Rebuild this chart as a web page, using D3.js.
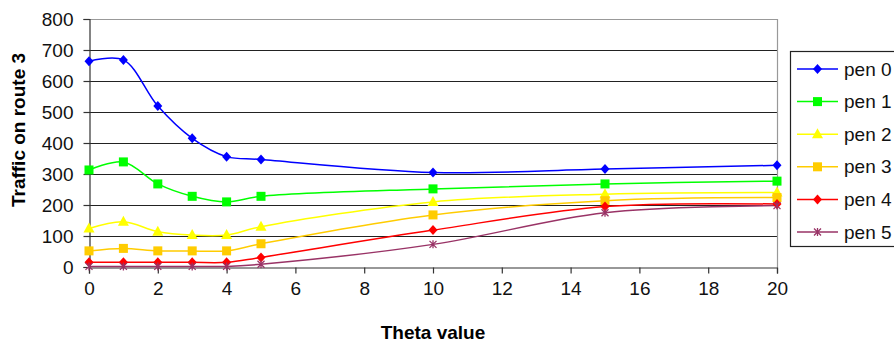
<!DOCTYPE html>
<html>
<head>
<meta charset="utf-8">
<script src="https://cdn.jsdelivr.net/npm/d3@7"></script>
<style>
  body { margin: 0; background: #fff; }
  svg text { font-family: Arial, "Liberation Sans", sans-serif; }
</style>
</head>
<body>
<svg width="894" height="345"></svg>
<script>
// Data
const theta = [0, 1, 2, 3, 4, 5, 10, 15, 20];
const pen0 = [664, 668, 519, 415, 356, 347, 305, 316, 328];
const pen1 = [313, 339, 268, 228, 210, 228, 252, 268, 277];
const pen2 = [124, 146, 114, 103, 103, 130, 210, 235, 240];
const pen3 = [52, 60, 52, 52, 52, 75, 168, 214, 224];
const pen4 = [15, 15, 15, 15, 15, 31, 119, 195, 203];
const pen5 = [2, 2, 2, 2, 2, 9, 73, 175, 198];
const seriesNames = ["pen 0", "pen 1", "pen 2", "pen 3", "pen 4", "pen 5"];
const yTicks = [0, 100, 200, 300, 400, 500, 600, 700, 800];
const xTicks = [0, 2, 4, 6, 8, 10, 12, 14, 16, 18, 20];

const colors = ["#0000ff", "#00ff00", "#ffff00", "#ffcc00", "#ff0000", "#993366"];
const shapes = ["diamond", "square", "triangle", "square", "diamond", "cross"];
const allValues = [pen0, pen1, pen2, pen3, pen4, pen5];

const series = seriesNames.map((name, i) => ({
    name: name,
    color: colors[i],
    shape: shapes[i],
    points: theta.map((t, j) => ({ x: t, y: allValues[i][j] }))
}));

const svg = d3.select("svg");
const plotL = 89, plotR = 777, plotT = 19, plotB = 267;

// scales
const x = d3.scaleLinear().domain([0, 20]).range([plotL, plotR]);
const y = d3.scaleLinear().domain([0, 800]).range([plotB, plotT]);

// gridlines
svg.append("g")
    .selectAll("line")
    .data(yTicks.filter(d => d > 0 && d < 800))
    .enter()
    .append("line")
    .attr("x1", plotL)
    .attr("x2", plotR)
    .attr("y1", d => Math.round(y(d)) + 0.5)
    .attr("y2", d => Math.round(y(d)) + 0.5)
    .attr("stroke", "#222")
    .attr("stroke-width", 1.2);

// plot border (top and right, grey)
svg.append("path")
    .attr("d", `M${plotL},${plotT + 0.5}H${plotR + 0.5}V${plotB}`)
    .attr("fill", "none")
    .attr("stroke", "#999")
    .attr("stroke-width", 1.2);

// axes
const yAxis = svg.append("g")
    .attr("transform", `translate(${plotL + 0.5},0)`)
    .call(d3.axisLeft(y).tickValues(yTicks).tickSize(6).tickPadding(10).tickFormat(d3.format("d")));
const xAxis = svg.append("g")
    .attr("transform", `translate(0,${plotB + 0.5})`)
    .call(d3.axisBottom(x).tickValues(xTicks).tickSize(6).tickPadding(8).tickFormat(d3.format("d")));

[yAxis, xAxis].forEach(ax => {
    ax.select(".domain").attr("stroke", "#333").attr("stroke-width", 1.2);
    ax.selectAll(".tick line").attr("stroke", "#333").attr("stroke-width", 1.2);
    ax.selectAll(".tick text")
        .attr("fill", "#111")
        .style("font-size", "19px")
        .style("font-family", "Arial, 'Liberation Sans', sans-serif");
});
yAxis.selectAll(".tick text").attr("dy", "0.35em");

// lines
const line = d3.line()
    .x(d => x(d.x))
    .y(d => y(d.y))
    .curve(d3.curveCatmullRom.alpha(0.5));

svg.append("g")
    .selectAll("path")
    .data(series)
    .enter()
    .append("path")
    .attr("d", d => line(d.points))
    .attr("fill", "none")
    .attr("stroke", d => d.color)
    .attr("stroke-width", 1.5);

// marker drawing
function drawMarker(g, shape, color) {
    if (shape === "diamond") {
        g.append("path").attr("d", "M0,-5L4.5,0L0,5L-4.5,0Z").attr("fill", color);
    } else if (shape === "square") {
        g.append("rect").attr("x", -4.5).attr("y", -4.5).attr("width", 9).attr("height", 9).attr("fill", color);
    } else if (shape === "triangle") {
        g.append("path").attr("d", "M0,-6L5.5,4L-5.5,4Z").attr("fill", color);
    } else {
        g.append("path").attr("d", "M-3.5,-3.5L3.5,3.5M-3.5,3.5L3.5,-3.5M0,-4V4")
            .attr("stroke", color).attr("stroke-width", 1.3).attr("fill", "none");
    }
}

series.forEach(s => {
    svg.append("g")
        .selectAll("g")
        .data(s.points)
        .enter()
        .append("g")
        .attr("transform", d => `translate(${x(d.x)},${y(d.y)})`)
        .each(function() { drawMarker(d3.select(this), s.shape, s.color); });
});

// axis titles
svg.append("text")
    .attr("x", (plotL + plotR) / 2)
    .attr("y", 339)
    .attr("text-anchor", "middle")
    .style("font-size", "19px")
    .style("font-weight", "bold")
    .text("Theta value");

svg.append("text")
    .attr("transform", "translate(25,130) rotate(-90)")
    .attr("text-anchor", "middle")
    .style("font-size", "19px")
    .style("font-weight", "bold")
    .text("Traffic on route 3");

// legend
const legend = svg.append("g");
legend.append("rect")
    .attr("x", 790.5)
    .attr("y", 51.5)
    .attr("width", 120)
    .attr("height", 195)
    .attr("fill", "#fff")
    .attr("stroke", "#222")
    .attr("stroke-width", 1.2);

const legendY = d3.scalePoint().domain(seriesNames).range([69, 232]);
series.forEach(s => {
    const row = legend.append("g").attr("transform", `translate(0,${legendY(s.name)})`);
    row.append("line")
        .attr("x1", 797).attr("x2", 838)
        .attr("stroke", s.color).attr("stroke-width", 1.5);
    drawMarker(row.append("g").attr("transform", "translate(817.5,0)"), s.shape, s.color);
    row.append("text")
        .attr("x", 844)
        .attr("dy", "0.35em")
        .style("font-size", "19px")
        .attr("fill", "#111")
        .text(s.name);
});
</script>
</body>
</html>
